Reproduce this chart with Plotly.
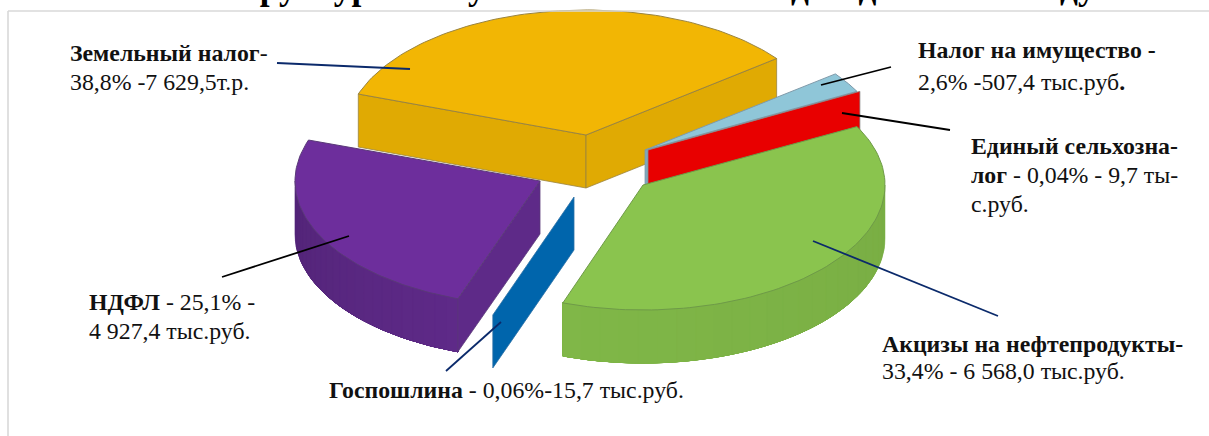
import math
import plotly.graph_objects as go

# ---- data ----
categories = ["Земельный налог", "Налог на имущество", "Единый сельхозналог",
              "Акцизы на нефтепродукты", "Госпошлина", "НДФЛ"]
shares = [38.8, 2.6, 0.04, 33.4, 0.06, 25.1]

# ---- styles ----
top_colors = ["#F2B604", "#8FC6D8", "#E80000", "#8AC44E", "#0065AC", "#6D2E9C"]
wall_colors = ["#E0AA03", "#7FA9BC", "#E80000", "#80B748", "#0065AC", "#5E2A88"]
edge_colors = ["#9A8440", "#7F9AAA", "#8C8C8C", "#6E9A48", "#2A6FA5", "#5A3A78"]
apex_px = [(586, 135), (645, 150), (648, 150), (643, 185), (574, 197), (540, 181)]
radii_x = [241, 240, 240, 242, 245, 245]
RY, DEPTH = 125, 53
START = 157.5


def warp(theta):
    """Off-axis view of the disc: true angle -> drawn ellipse angle."""
    return theta + 10 + 10 * math.cos(math.radians(theta - 26))


def rim(i, t, dz=0):
    ax, ay = apex_px[i]
    r = math.radians(t)
    return ax + radii_x[i] * math.cos(r), ay - RY * math.sin(r) + dz


def poly(fig, pts, color, edge, width=1.0):
    xs = [p[0] for p in pts] + [pts[0][0]]
    ys = [p[1] for p in pts] + [pts[0][1]]
    fig.add_trace(go.Scatter(x=xs, y=ys, mode="lines", fill="toself", fillcolor=color,
                             line=dict(color=edge, width=width), hoverinfo="skip",
                             showlegend=False))


def shade(hex_color, f):
    c = [int(hex_color[k:k + 2], 16) for k in (1, 3, 5)]
    return "rgb(%d,%d,%d)" % tuple(min(255, int(v * f)) for v in c)


# angular extents come from the shares
bounds = []
cur = START
for s in shares:
    nxt = cur - s * 3.6
    bounds.append((warp(cur), warp(nxt)))
    cur = nxt

fig = go.Figure()


def arc(i, t0, t1, dz=0, n=90):
    return [rim(i, t0 + (t1 - t0) * k / n, dz) for k in range(n + 1)]


def top(i):
    t0, t1 = bounds[i]
    poly(fig, [apex_px[i]] + arc(i, t0, t1), top_colors[i], edge_colors[i])


def radial_wall(i, t):
    ax, ay = apex_px[i]
    poly(fig, [(ax, ay), rim(i, t), rim(i, t, DEPTH), (ax, ay + DEPTH)],
         wall_colors[i], edge_colors[i], 0.8)


def outer_wall(i, t0, t1, dark_from=1.0, dark_to=1.0):
    # bands painted over one another, each reaching to the far end, so no seams show
    n = 24
    for k in range(n):
        a = t0 + (t1 - t0) * k / n
        f = dark_from + (dark_to - dark_from) * k / (n - 1)
        col = shade(wall_colors[i], f)
        pts = arc(i, a, t1, 0, 40) + arc(i, t1, a, DEPTH, 40)
        poly(fig, pts, col, col, 0.5)


# back to front
Y, L, R, G, B, P = range(6)
radial_wall(Y, bounds[Y][0])
radial_wall(Y, bounds[Y][1])
top(Y)
radial_wall(L, bounds[L][1])
top(L)
radial_wall(R, bounds[R][0])
outer_wall(G, 0, bounds[G][1], 0.95, 1.0)
top(G)
radial_wall(B, bounds[B][0])
outer_wall(P, 180, bounds[P][0] + 360 if bounds[P][0] < 0 else bounds[P][0], 0.88, 1.0)
radial_wall(P, bounds[P][0])
top(P)

# leader lines
leaders = [
    (277, 63, 410, 69, "#0B2A6B"),
    (821, 85, 891, 67, "#000000"),
    (842, 113, 950, 130, "#000000"),
    (813, 241, 998, 316, "#0B2A6B"),
    (446, 371, 501, 322, "#0B2A6B"),
    (222, 277, 349, 236, "#000000"),
]
shapes = [dict(type="line", xref="x", yref="y", x0=a, y0=b, x1=c, y1=d,
               line=dict(color=col, width=1.8)) for a, b, c, d, col in leaders]
# frame
shapes += [
    dict(type="line", xref="x", yref="y", x0=8, y0=11, x1=1209, y1=11,
         line=dict(color="#D9D9D9", width=1.6)),
    dict(type="line", xref="x", yref="y", x0=8, y0=11, x1=8, y1=436,
         line=dict(color="#D9D9D9", width=1.6)),
]

SERIF = "Liberation Serif"
labels = [
    (68, 53, "<b>Земельный налог</b>-"),
    (68, 82, "38,8% -7 629,5т.р."),
    (916, 50, "<b>Налог на имущество -</b>"),
    (916, 82, "2,6% -507,4 тыс.руб<b>.</b>"),
    (969, 146, "<b>Единый сельхозна-</b>"),
    (969, 175, "<b>лог</b> - 0,04% - 9,7 ты-"),
    (969, 204, "с.руб."),
    (880, 344, "<b>Акцизы на нефтепродукты-</b>"),
    (880, 371, "33,4% - 6 568,0 тыс.руб."),
    (87, 302, "<b>НДФЛ</b> - 25,1% -"),
    (87, 331, "4 927,4 тыс.руб."),
    (327, 390, "<b>Госпошлина</b> - 0,06%-15,7 тыс.руб."),
]
annotations = [dict(x=x, y=y, xref="x", yref="y", text=t, showarrow=False, xanchor="left",
                    yanchor="middle", font=dict(family=SERIF, size=23.8, color="#111111"))
               for x, y, t in labels]
annotations.append(dict(x=215 / 1209, y=1, xref="paper", yref="paper", yshift=13, showarrow=False,
                        xanchor="left", yanchor="middle",
                        text="<b>Структура поступления налоговых доходов в 2023 году</b>",
                        font=dict(family=SERIF, size=35.3, color="#000000")))

fig.update_layout(
    width=1209, height=436, margin=dict(l=0, r=0, t=0, b=0),
    paper_bgcolor="white", plot_bgcolor="white", showlegend=False,
    xaxis=dict(range=[0, 1209], visible=False, fixedrange=True),
    yaxis=dict(range=[436, 0], visible=False, fixedrange=True),
    shapes=shapes, annotations=annotations,
)
fig.write_html("out.html", config={"displayModeBar": False},
               default_width="1209px", default_height="436px",
               post_script="document.body.style.margin='0';")
